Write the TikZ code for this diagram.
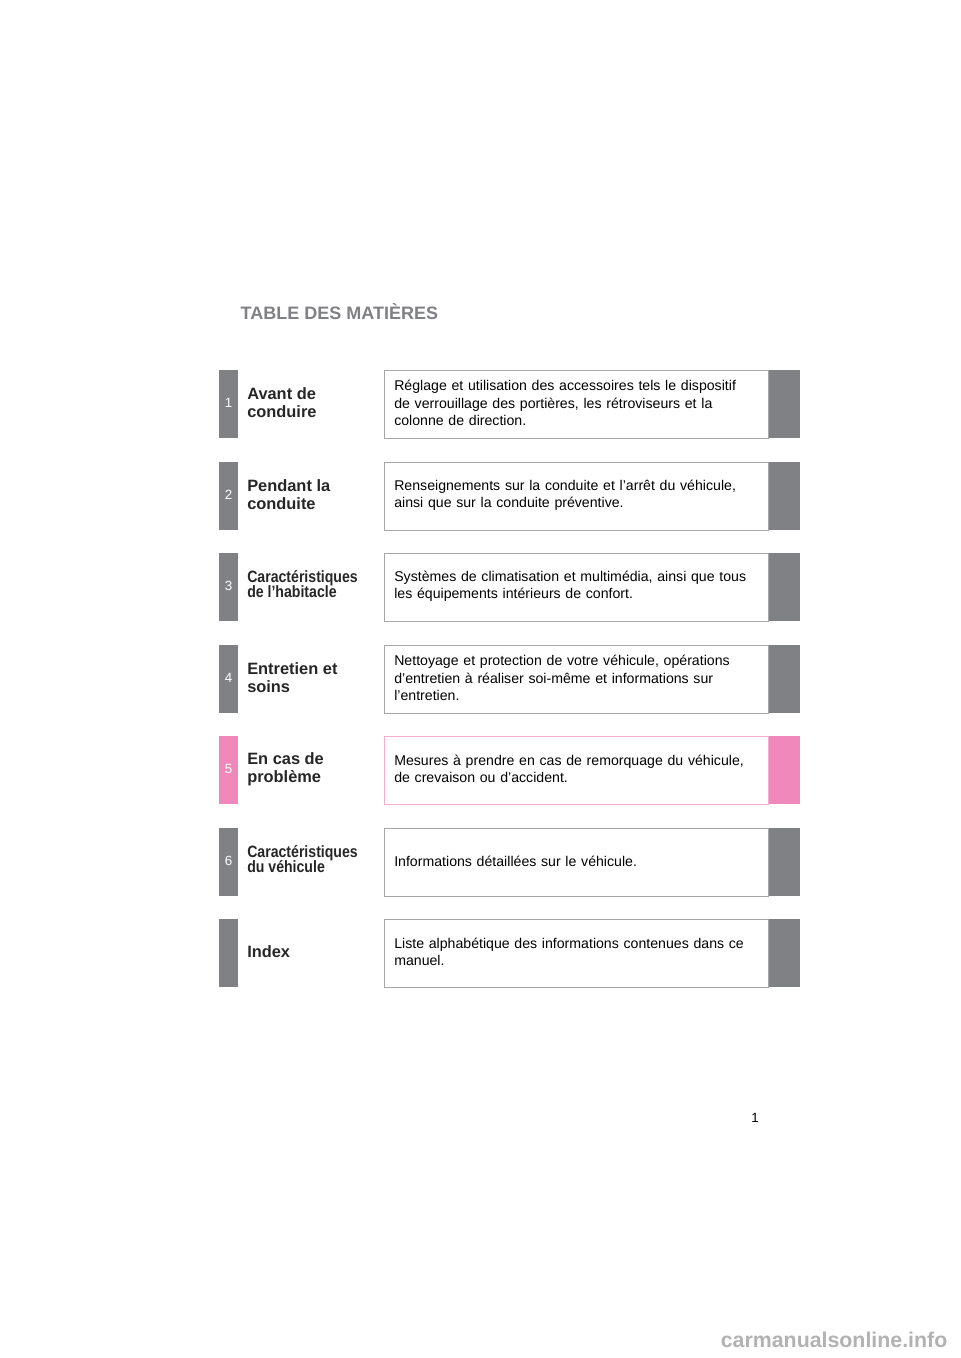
\documentclass[tikz,border=0pt]{standalone}
\usepackage{fontspec}
\setmainfont{Liberation Sans}
\usepackage{graphicx}
\begin{document}
\begin{tikzpicture}[x=0.75pt,y=-0.75pt,
  tabc/.style={fill=tabgray,draw=none},
  desc/.style={anchor=west,align=left,font=\fontsize{10.6}{12.9}\selectfont,text width=280pt,inner sep=0},
  ttl/.style={anchor=west,align=left,font=\fontsize{12.3}{13.5}\selectfont\bfseries,inner sep=0,text=black!85},
  num/.style={text=white,font=\fontsize{10}{12}\selectfont}]
\definecolor{tabgray}{RGB}{128,129,132}
\definecolor{pinkc}{RGB}{240,136,187}
\useasboundingbox (0,0) rectangle (960,1358);
\fill[white] (0,0) rectangle (960,1358);
\node[anchor=west,text=tabgray,font=\fontsize{13.5}{16}\selectfont\bfseries] (title) at (236,312) {TABLE DES MATIÈRES};
\foreach \i/\t/\n/\d/\c/\cond in {
 1/370/1/{Réglage et utilisation des accessoires tels le dispositif\\de verrouillage des portières, les rétroviseurs et la\\colonne de direction.}/tabgray/0,
 2/462/2/{Renseignements sur la conduite et l’arrêt du véhicule,\\ainsi que sur la conduite préventive.}/tabgray/0,
 3/553/3/{Systèmes de climatisation et multimédia, ainsi que tous\\les équipements intérieurs de confort.}/tabgray/1,
 4/645/4/{Nettoyage et protection de votre véhicule, opérations\\d’entretien à réaliser soi-même et informations sur\\l’entretien.}/tabgray/0,
 5/736/5/{Mesures à prendre en cas de remorquage du véhicule,\\de crevaison ou d’accident.}/pinkc/0,
 6/828/6/{Informations détaillées sur le véhicule.}/tabgray/1,
 7/919//{Liste alphabétique des informations contenues dans ce\\manuel.}/tabgray/0}{
  \fill[\c] (219,\t) rectangle (238,\t+68);
  \fill[\c] (768,\t) rectangle (800,\t+68);
  \draw[draw=\c!70!white,line width=0.6pt] (384,\t) rectangle (768,\t+68);
  \node[num] (n\i) at (228.5,\t+33) {\n};
  \node[desc] (d\i) at (394,\t+33) {\d};
}
\node[ttl] (t1) at (247,403) {Avant de\\conduire};
\node[ttl] (t2) at (247,495) {Pendant la\\conduite};
\node[ttl] (t3) at (247,586) {\scalebox{0.86}[1]{\fontsize{12.3}{13.5}\selectfont\bfseries\begin{tabular}{@{}l@{}}Caractéristiques\\[-2.4pt]de l’habitacle\end{tabular}}};
\node[ttl] (t4) at (247,678) {Entretien et\\soins};
\node[ttl] (t5) at (247,769) {En cas de\\problème};
\node[ttl] (t6) at (247,861) {\scalebox{0.86}[1]{\fontsize{12.3}{13.5}\selectfont\bfseries\begin{tabular}{@{}l@{}}Caractéristiques\\[-2.4pt]du véhicule\end{tabular}}};
\node[ttl] (t7) at (247,952) {Index};
\node[font=\fontsize{10}{12}\selectfont] (pg) at (755,1118) {1};
\node[anchor=east,text=black!30,font=\fontsize{16}{18}\selectfont\bfseries] (wm) at (952,1340) {carmanualsonline.info};
\end{tikzpicture}
\end{document}
